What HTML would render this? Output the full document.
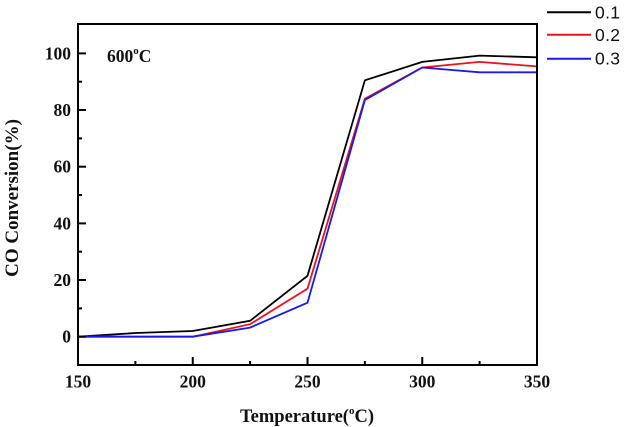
<!DOCTYPE html>
<html><head><meta charset="utf-8"><style>
html,body{margin:0;padding:0;background:#fff;}
svg{display:block;}
.t{font-family:"Liberation Serif",serif;font-weight:bold;fill:#111;}
.l{font-family:"Liberation Sans",sans-serif;fill:#111;}
</style></head><body>
<svg width="624" height="427" viewBox="0 0 624 427" xmlns="http://www.w3.org/2000/svg">
<rect width="624" height="427" fill="#fff"/>
<!-- series -->
<polyline fill="none" stroke="#000" stroke-width="1.8" stroke-linejoin="miter" points="78,336.7 135.4,333 192.75,331 250.1,320.8 307.5,275.8 364.9,80.3 422.25,61.9 479.6,55.6 537,57.3"/>
<polyline fill="none" stroke="#e8141c" stroke-width="1.8" points="78,336.7 135.4,336.7 192.75,336.7 250.1,324.2 307.5,288.7 364.9,98.7 422.25,67.5 479.6,61.9 537,66.4"/>
<polyline fill="none" stroke="#1a1ae6" stroke-width="1.8" points="78,336.7 135.4,336.7 192.75,336.7 250.1,327.6 307.5,302.7 364.9,100 422.25,67.5 479.6,72.3 537,72.3"/>
<!-- frame -->
<rect x="78" y="24" width="459" height="341" fill="none" stroke="#000" stroke-width="2"/>
<!-- y ticks -->
<g stroke="#000" stroke-width="2">
<line x1="78" y1="336.7" x2="86" y2="336.7"/>
<line x1="78" y1="280" x2="86" y2="280"/>
<line x1="78" y1="223.4" x2="86" y2="223.4"/>
<line x1="78" y1="166.7" x2="86" y2="166.7"/>
<line x1="78" y1="110" x2="86" y2="110"/>
<line x1="78" y1="53.4" x2="86" y2="53.4"/>
<line x1="78" y1="308.4" x2="82" y2="308.4"/>
<line x1="78" y1="251.7" x2="82" y2="251.7"/>
<line x1="78" y1="195" x2="82" y2="195"/>
<line x1="78" y1="138.4" x2="82" y2="138.4"/>
<line x1="78" y1="81.7" x2="82" y2="81.7"/>
<!-- x ticks -->
<line x1="192.75" y1="365" x2="192.75" y2="357"/>
<line x1="307.5" y1="365" x2="307.5" y2="357"/>
<line x1="422.25" y1="365" x2="422.25" y2="357"/>
<line x1="135.4" y1="365" x2="135.4" y2="361"/>
<line x1="250.1" y1="365" x2="250.1" y2="361"/>
<line x1="364.9" y1="365" x2="364.9" y2="361"/>
<line x1="479.6" y1="365" x2="479.6" y2="361"/>
</g>
<!-- y tick labels -->
<g class="t" font-size="17.5" text-anchor="end">
<text x="71" y="342.7">0</text>
<text x="71" y="286">20</text>
<text x="71" y="229.4">40</text>
<text x="71" y="172.7">60</text>
<text x="71" y="116">80</text>
<text x="71" y="59.4">100</text>
</g>
<!-- x tick labels -->
<g class="t" font-size="17.5" text-anchor="middle">
<text x="78" y="387.5">150</text>
<text x="192.75" y="387.5">200</text>
<text x="307.5" y="387.5">250</text>
<text x="422.25" y="387.5">300</text>
<text x="537" y="387.5">350</text>
</g>
<!-- axis titles -->
<text class="t" font-size="18.5" x="307" y="422" text-anchor="middle">Temperature(<tspan font-size="11" dy="-8">o</tspan><tspan dy="8">C)</tspan></text>
<text class="t" font-size="19" transform="translate(18,198) rotate(-90)" text-anchor="middle">CO Conversion(%)</text>
<!-- annotation -->
<text class="t" font-size="17.5" x="107" y="62">600<tspan font-size="11" dy="-8">o</tspan><tspan dy="8">C</tspan></text>
<!-- legend -->
<g stroke-width="2">
<line x1="547" y1="12.3" x2="591" y2="12.3" stroke="#000"/>
<line x1="547" y1="34.7" x2="591" y2="34.7" stroke="#e8141c"/>
<line x1="547" y1="58.7" x2="591" y2="58.7" stroke="#1a1ae6"/>
</g>
<g class="l" font-size="17.5">
<text x="595" y="18.5" textLength="25">0.1</text>
<text x="595" y="41" textLength="25">0.2</text>
<text x="595" y="64.5" textLength="25">0.3</text>
</g>
</svg>
</body></html>
